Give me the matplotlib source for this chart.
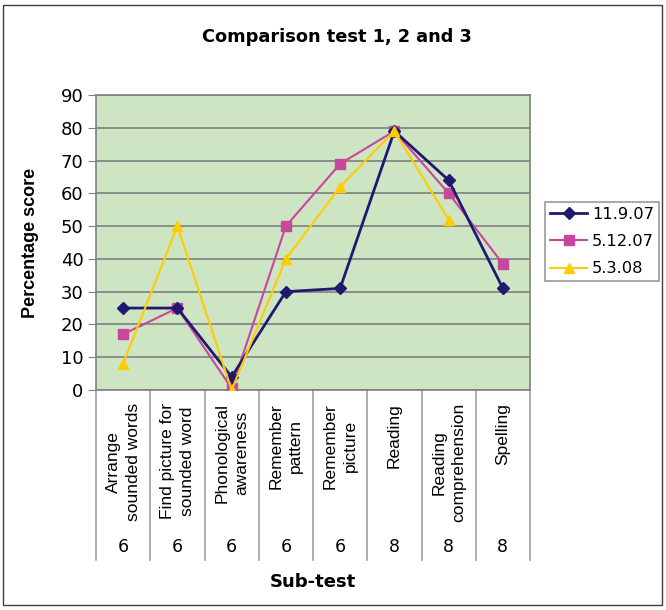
import matplotlib.pyplot as plt
from matplotlib.patches import Rectangle
import matplotlib.transforms as mtransforms

plt.rcParams['font.family'] = ['DejaVu Sans']
NARROW = ['Liberation Sans', 'DejaVu Sans']

categories = ['Arrange\nsounded words', 'Find picture for\nsounded word',
              'Phonological\nawareness', 'Remember\npattern', 'Remember\npicture',
              'Reading', 'Reading\ncomprehension', 'Spelling']
counts = ['6', '6', '6', '6', '6', '8', '8', '8']

s_1190 = [25, 25, 4, 30, 31, 79, 64, 31]
s_5120 = [17, 25, 0.5, 50, 69, 79, 60, 38.5]
s_5308 = [8, 50, 0, 40, 62, 79, 52, None]

W, H = 666, 610
fig = plt.figure(figsize=(W / 100, H / 100), dpi=100)
ax = fig.add_axes([96 / W, 1 - 390 / H, 434 / W, 295 / H])
ax.set_facecolor('#cde5c3')

x = list(range(len(categories)))
ax.plot(x, s_1190, color='#1f1a6e', marker='D', markersize=6.5, linewidth=2, label='11.9.07', zorder=4)
ax.plot(x, s_5120, color='#c8479e', marker='s', markersize=6.5, linewidth=1.5, label='5.12.07', zorder=3)
x3 = [i for i, v in zip(x, s_5308) if v is not None]
y3 = [v for v in s_5308 if v is not None]
ax.plot(x3, y3, color='#ffcc00', marker='^', markersize=7.5, linewidth=1.5, label='5.3.08', zorder=5)

ax.set_xlim(-0.5, len(categories) - 0.5)
ax.set_ylim(0, 90)
ax.set_yticks(range(0, 91, 10))
ax.tick_params(axis='y', labelsize=13, length=6, pad=3, color='#808080')
ax.set_xticks([])
ax.yaxis.grid(True, color='#808080', linewidth=1.2)
ax.set_axisbelow(True)
for sp in ax.spines.values():
    sp.set_color('#808080')
    sp.set_linewidth(1.2)

# category table below the axis
trans = mtransforms.blended_transform_factory(ax.transData, ax.transAxes)
for i in range(len(categories) + 1):
    ax.plot([i - 0.5, i - 0.5], [0, -170 / 295], transform=trans, color='#a0a0a0',
            linewidth=1.2, clip_on=False)
for i, (lab, n) in enumerate(zip(categories, counts)):
    ax.text(i, -13 / 295, lab, transform=trans, rotation=90, ha='center', va='top',
            multialignment='center', fontsize=12.5, linespacing=1.4, family=NARROW)
    ax.text(i, -157 / 295, n, transform=trans, ha='center', va='center', fontsize=12.5)

ax.set_ylabel('Percentage score', fontsize=13, fontweight='bold', family=NARROW)
ax.yaxis.set_label_coords(-(96 - 39) / 434, 0.5)
fig.text(313 / W, 1 - 582 / H, 'Sub-test', ha='center', va='center', fontsize=13, fontweight='bold')
fig.text(337 / W, 1 - 37 / H, 'Comparison test 1, 2 and 3', ha='center', va='center',
         fontsize=12.8, fontweight='bold')

leg = ax.legend(loc='upper left', bbox_to_anchor=(545 / W, 1 - 202 / H),
                bbox_transform=fig.transFigure, borderaxespad=0, frameon=True,
                fancybox=False, edgecolor='#808080', fontsize=11.7, borderpad=0.3,
                handlelength=2.3, handletextpad=0.3, labelspacing=0.75)
leg.get_frame().set_linewidth(1.2)

fig.patches.append(Rectangle((3 / W, 5 / H), 659 / W, 600 / H, transform=fig.transFigure,
                             fill=False, edgecolor='#404040', linewidth=1))

plt.savefig('out.png', dpi=100)
